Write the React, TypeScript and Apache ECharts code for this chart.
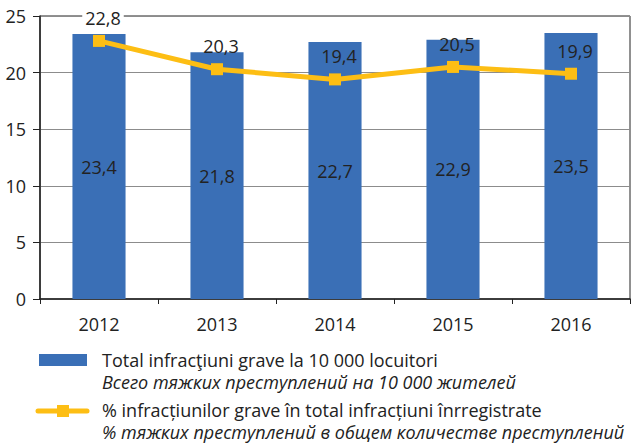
import React, { useEffect, useRef } from "react";
import * as echarts from "echarts";

const years = ["2012", "2013", "2014", "2015", "2016"];
const totalPer10k = [23.4, 21.8, 22.7, 22.9, 23.5];
const sharePct = [22.8, 20.3, 19.4, 20.5, 19.9];
const yTicks = { min: 0, max: 25, interval: 5 };
const legendBarRo = "Total infracţiuni grave la 10 000 locuitori";
const legendBarRu = "Всего тяжких преступлений на 10 000 жителей";
const legendLineRo = "% infracțiunilor grave în total infracțiuni înrregistrate";
const legendLineRu = "% тяжких преступлений в общем количестве преступлений";

const BLUE = "#3A6FB6";
const GOLD = "#FDBE14";
const TXT = "#222222";
const FONT = "'Open Sans', 'Noto Sans', sans-serif";
const FS = 18;

const fmt = (v: number) => v.toFixed(1).replace(".", ",");

const txt = (x: number, y: number, text: string, italic = false) => ({
  type: "text",
  x,
  y,
  style: {
    text,
    fill: TXT,
    fontSize: FS,
    lineHeight: 18,
    fontFamily: FONT,
    fontStyle: italic ? "italic" : "normal",
    verticalAlign: "middle",
    textVerticalAlign: "middle",
  },
});

export default function App() {
  const ref = useRef<HTMLDivElement>(null);
  useEffect(() => {
    if (!ref.current) return;
    const chart = echarts.init(ref.current, undefined, { renderer: "svg" });
    chart.setOption({
      animation: false,
      textStyle: { fontFamily: FONT },
      grid: {
        left: 40,
        right: 3,
        top: 16,
        bottom: 144,
        show: true,
        borderColor: "#222",
        borderWidth: 1,
      },
      xAxis: {
        type: "category",
        data: years,
        axisLine: { lineStyle: { color: "#222", width: 1.5 } },
        axisTick: { show: true, length: 5, lineStyle: { color: "#222" } },
        axisLabel: { color: TXT, fontSize: FS, margin: 16, fontFamily: FONT },
      },
      yAxis: {
        type: "value",
        min: yTicks.min,
        max: yTicks.max,
        interval: yTicks.interval,
        axisLine: { show: true, lineStyle: { color: "#222", width: 1.5 } },
        axisTick: { show: true, length: 7, lineStyle: { color: "#222" } },
        axisLabel: { color: TXT, fontSize: FS, margin: 14, fontFamily: FONT },
        splitLine: { lineStyle: { color: "#8c8c8c", width: 1 } },
      },
      series: [
        {
          type: "bar",
          data: totalPer10k,
          barWidth: "45%",
          itemStyle: { color: BLUE },
          label: {
            show: true,
            position: "inside",
            color: TXT,
            fontSize: FS,
            fontFamily: FONT,
            formatter: (p: any) => fmt(p.value),
          },
        },
        {
          type: "line",
          data: sharePct.map((v, i) =>
            i === 0
              ? { value: v, label: { backgroundColor: "#fff", padding: [0, 3] } }
              : v
          ),
          symbol: "rect",
          symbolSize: 12,
          lineStyle: { color: GOLD, width: 5 },
          itemStyle: { color: GOLD },
          label: {
            show: true,
            position: "top",
            distance: 8,
            offset: [4, 0],
            color: TXT,
            fontSize: FS,
            fontFamily: FONT,
            formatter: (p: any) => fmt(p.value),
          },
          z: 5,
        },
      ],
      graphic: [
        { type: "rect", shape: { x: 39, y: 354, width: 48, height: 12 }, style: { fill: BLUE } },
        txt(102, 359.5, legendBarRo),
        txt(102, 381.5, legendBarRu, true),
        {
          type: "line",
          shape: { x1: 38, y1: 411, x2: 87, y2: 411 },
          style: { stroke: GOLD, lineWidth: 5, lineCap: "round" },
        },
        { type: "rect", shape: { x: 57, y: 405, width: 12, height: 12 }, style: { fill: GOLD } },
        txt(102, 409.5, legendLineRo),
        txt(102, 431.5, legendLineRu, true),
      ],
    });
    return () => chart.dispose();
  }, []);
  return <div ref={ref} style={{ width: 633, height: 443, position: "absolute", left: 0, top: 0 }} />;
}
